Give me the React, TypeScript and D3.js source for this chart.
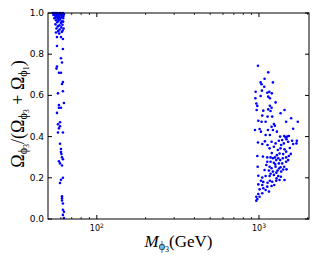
import * as d3 from "d3";

const W = 317;
const H = 264;
const MARGIN = { top: 13, right: 8, bottom: 45, left: 48 };

// light branch, M ~ 50-65 GeV: [mass, ratio]
const lightBranch: [number, number][] = [
  [53.6, 1.0], [54.4, 0.998], [55.2, 1.0], [56.0, 0.997], [56.8, 1.0], [57.6, 0.999],
  [58.4, 0.996], [59.3, 1.0], [60.1, 0.998], [61.0, 0.997], [61.8, 1.0], [62.7, 0.995],
  [54.0, 0.99], [55.0, 0.992], [56.4, 0.988], [57.2, 0.993], [58.0, 0.985], [59.0, 0.99],
  [60.5, 0.987], [61.4, 0.991], [62.3, 0.986], [55.6, 0.98], [56.8, 0.978], [58.4, 0.982],
  [59.6, 0.976], [60.8, 0.98], [62.0, 0.975], [57.6, 0.972], [54.8, 0.975], [56.0, 0.965],
  [58.0, 0.962], [59.3, 0.968], [61.0, 0.96], [57.0, 0.955], [60.0, 0.952], [62.0, 0.958],
  [55.6, 0.945], [58.8, 0.94], [61.4, 0.943], [57.4, 0.935], [60.4, 0.93], [56.4, 0.925],
  [59.0, 0.92], [62.4, 0.925], [57.8, 0.912], [60.8, 0.908], [56.0, 0.905], [58.6, 0.9],
  [61.6, 0.915],
  [56.8, 0.883], [60.1, 0.883], [61.8, 0.874], [56.8, 0.84], [61.8, 0.825],
  [60.1, 0.78], [61.0, 0.76], [56.8, 0.74], [56.4, 0.73], [58.4, 0.71], [60.1, 0.71],
  [61.8, 0.665], [61.0, 0.655], [57.6, 0.61], [61.8, 0.62], [58.4, 0.553], [62.7, 0.563],
  [58.4, 0.54], [60.1, 0.54], [56.8, 0.515], [59.3, 0.47], [57.6, 0.46], [59.3, 0.45],
  [58.4, 0.44], [57.6, 0.42], [61.8, 0.42], [59.3, 0.365], [60.1, 0.34], [60.1, 0.325],
  [60.5, 0.315], [61.0, 0.3], [61.8, 0.29], [58.4, 0.28], [59.3, 0.27], [61.0, 0.26],
  [61.8, 0.2], [60.1, 0.19], [59.3, 0.175], [61.0, 0.11], [61.0, 0.1], [61.0, 0.09],
  [61.8, 0.075], [61.8, 0.045], [62.7, 0.035], [61.8, 0.02], [62.7, 0.005],
];

// heavy branch, M ~ 950-1750 GeV
const heavyBranch: [number, number][] = [
  [986, 0.744], [1141, 0.712], [1083, 0.681], [1024, 0.663], [1038, 0.654], [1219, 0.663],
  [954, 0.618], [1043, 0.623], [1078, 0.642], [1125, 0.613], [1158, 0.617], [1201, 0.61],
  [950, 0.586], [1024, 0.597], [1141, 0.594], [1168, 0.586], [1266, 0.566], [963, 0.561],
  [977, 0.549], [1168, 0.55], [1196, 0.54], [1141, 0.532], [968, 0.529], [1063, 0.526],
  [1179, 0.524], [1359, 0.513], [1437, 0.529], [1048, 0.502], [1130, 0.497], [1207, 0.497],
  [991, 0.477], [1099, 0.472], [1038, 0.472], [1471, 0.472], [1580, 0.489], [1735, 0.472],
  [1236, 0.461], [1196, 0.448], [1254, 0.453], [1009, 0.437], [1029, 0.424], [945, 0.432],
  [1136, 0.432], [1219, 0.432], [1290, 0.424], [1625, 0.438], [1099, 0.408], [1168, 0.408],
  [1431, 0.403], [1458, 0.396], [1492, 0.4], [1528, 0.403], [1479, 0.387], [1391, 0.383],
  [1327, 0.38], [986, 0.371], [1048, 0.364], [1088, 0.377], [1196, 0.375], [1130, 0.359],
  [1266, 0.367], [1371, 0.359], [1424, 0.367], [1513, 0.375], [1601, 0.38], [1712, 0.38],
  [1703, 0.367], [1625, 0.364], [1163, 0.343], [1236, 0.351], [1359, 0.343], [1437, 0.338],
  [1471, 0.327], [1308, 0.335], [977, 0.306], [1058, 0.303], [1125, 0.299], [1179, 0.299],
  [1219, 0.295], [1254, 0.299], [1278, 0.286], [1315, 0.295], [1352, 0.286], [1404, 0.295],
  [1471, 0.299], [1528, 0.306], [1571, 0.316], [1125, 0.278], [1179, 0.278], [1236, 0.273],
  [1327, 0.27], [1391, 0.27], [1471, 0.278], [1513, 0.286], [982, 0.254], [1163, 0.254],
  [1196, 0.246], [1266, 0.254], [1359, 0.251], [1431, 0.254], [1083, 0.238], [1152, 0.235],
  [1219, 0.23], [1302, 0.235], [1371, 0.23], [1479, 0.241], [991, 0.21], [1048, 0.201],
  [1099, 0.209], [1163, 0.209], [1236, 0.214], [1315, 0.209], [1365, 0.205], [1284, 0.197],
  [1029, 0.186], [1063, 0.18], [1130, 0.176], [1168, 0.186], [1207, 0.181], [1278, 0.186],
  [1339, 0.189], [1437, 0.189], [991, 0.168], [1048, 0.165], [1125, 0.157], [1196, 0.16],
  [1242, 0.165], [1009, 0.144], [1063, 0.149], [1099, 0.141], [1152, 0.133], [1048, 0.125],
  [991, 0.121], [963, 0.108], [1009, 0.108], [977, 0.097], [963, 0.089],
  [1200, 0.32], [1290, 0.31], [1340, 0.318], [1410, 0.315], [1260, 0.265], [1110, 0.262],
  [1330, 0.245], [1410, 0.24], [1180, 0.22], [1280, 0.225], [1350, 0.4], [1550, 0.345],
];

const yTicks = [0, 0.2, 0.4, 0.6, 0.8, 1.0];
const xMajor = [100, 1000];
const xMinor = [60, 70, 80, 90, 200, 300, 400, 500, 600, 700, 800, 900, 2000];

export default function App() {
  const x0 = MARGIN.left;
  const x1 = W - MARGIN.right;
  const y0 = H - MARGIN.bottom;
  const y1 = MARGIN.top;

  const xScale = d3.scaleLog().domain([50, 2035]).range([x0, x1]);
  const yScale = d3.scaleLinear().domain([0, 1]).range([y0, y1]);

  const points = [...lightBranch, ...heavyBranch].map((d, i) => (
    <circle key={i} cx={xScale(d[0])} cy={yScale(d[1])} r={1.3} fill="#0000ff" />
  ));

  const yAxis = yTicks.map((v) => (
    <g key={v}>
      <line x1={x0} x2={x0 + 4} y1={yScale(v)} y2={yScale(v)} stroke="#000" />
      <line x1={x1} x2={x1 - 4} y1={yScale(v)} y2={yScale(v)} stroke="#000" />
      <text x={x0 - 4} y={yScale(v)} textAnchor="end" dominantBaseline="central" fontSize={9}>
        {v.toFixed(1)}
      </text>
    </g>
  ));

  const xMinorTicks = xMinor.map((v) => (
    <g key={v}>
      <line x1={xScale(v)} x2={xScale(v)} y1={y0} y2={y0 - 2} stroke="#000" strokeWidth={0.8} />
      <line x1={xScale(v)} x2={xScale(v)} y1={y1} y2={y1 + 2} stroke="#000" strokeWidth={0.8} />
    </g>
  ));

  const xMajorTicks = xMajor.map((v) => (
    <g key={v}>
      <line x1={xScale(v)} x2={xScale(v)} y1={y0} y2={y0 - 4} stroke="#000" />
      <line x1={xScale(v)} x2={xScale(v)} y1={y1} y2={y1 + 4} stroke="#000" />
      <text x={xScale(v)} y={y0 + 12} textAnchor="middle" fontSize={8}>
        10
        <tspan dy={-3} fontSize={6}>
          {Math.round(Math.log10(v))}
        </tspan>
      </text>
    </g>
  ));

  return (
    <svg
      width={W}
      height={H}
      style={{ position: "absolute", left: 0, top: 0, background: "#fff" }}
      fontFamily="DejaVu Sans"
    >
      {points}
      <rect x={x0} y={y1} width={x1 - x0} height={y0 - y1} fill="none" stroke="#000" />
      {yAxis}
      {xMinorTicks}
      {xMajorTicks}

      <text
        transform={`translate(24,114) rotate(-90)`}
        textAnchor="middle"
        fontFamily="Liberation Serif"
        fontSize={18}
      >
        Ω<tspan fontSize={12} dy={3}>ϕ</tspan>
        <tspan fontSize={8} dy={2}>3</tspan>
        <tspan dy={-5}>/(Ω</tspan>
        <tspan fontSize={12} dy={3}>ϕ</tspan>
        <tspan fontSize={8} dy={2}>3</tspan>
        <tspan dy={-5}> + Ω</tspan>
        <tspan fontSize={12} dy={3}>ϕ</tspan>
        <tspan fontSize={8} dy={2}>1</tspan>
        <tspan dy={-5}>)</tspan>
      </text>

      <text x={(x0 + x1) / 2} y={y0 + 28} textAnchor="middle" fontFamily="Liberation Serif" fontSize={17}>
        <tspan fontStyle="italic">M</tspan>
        <tspan fontSize={12} dy={3}>ϕ</tspan>
        <tspan fontSize={8} dy={2}>3</tspan>
        <tspan dy={-5}>(GeV)</tspan>
      </text>
    </svg>
  );
}
